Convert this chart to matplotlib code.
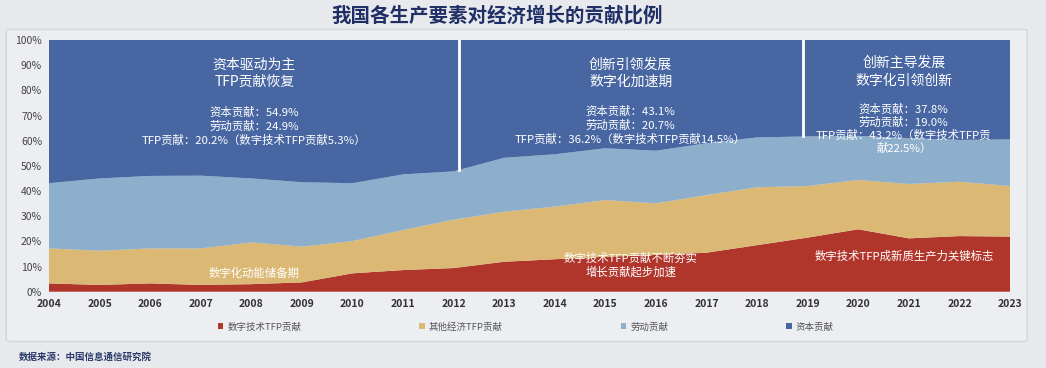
import matplotlib.pyplot as plt
import matplotlib.ticker as mticker
from matplotlib.patches import FancyBboxPatch, Patch

plt.rcParams['font.family'] = ['Noto Sans CJK SC', 'DejaVu Sans']

# datos (% de contribucion)
years = list(range(2004, 2024))
digital_tfp = [3.3, 2.7, 3.3, 2.7, 3.0, 3.7, 7.3, 8.6, 9.4, 11.9,
               12.9, 13.9, 14.6, 15.5, 18.5, 21.5, 24.8, 21.2, 22.1, 21.9]
other_tfp = [13.9, 13.6, 13.9, 14.5, 16.6, 14.2, 12.8, 15.9, 19.2, 19.9,
             20.9, 22.5, 20.5, 22.9, 23.0, 20.5, 19.6, 21.6, 21.6, 20.1]
labor = [25.9, 28.7, 28.8, 28.9, 25.4, 25.6, 23.0, 22.1, 19.2, 21.4,
         20.8, 20.6, 20.9, 20.6, 19.8, 19.7, 17.5, 18.2, 16.6, 18.5]
capital = [56.9, 55.0, 54.0, 53.9, 55.0, 56.5, 56.9, 53.4, 52.2, 46.8,
           45.4, 43.0, 44.0, 41.0, 38.7, 38.3, 38.1, 39.0, 39.7, 39.5]
series_names = ['数字技术TFP贡献', '其他经济TFP贡献', '劳动贡献', '资本贡献']
colors = ['#b0362c', '#dbb975', '#8eafcb', '#4867a2']

# divisiones de etapas
stage_lines = [2012.1, 2018.9]
stage_ends = [48.5, 62.0]

fig = plt.figure(figsize=(10.46, 3.68), dpi=100)
fig.patch.set_facecolor('#e7e9ec')

# tarjeta de fondo
card = FancyBboxPatch((0.006, 0.072), 0.976, 0.848, boxstyle='round,pad=0,rounding_size=0.004',
                      transform=fig.transFigure, facecolor='#eceef1', edgecolor='#d3d6da',
                      linewidth=1.0, zorder=-10)
fig.patches.append(card)

ax = fig.add_axes([0.0468, 0.2073, 0.9188, 0.684])
ax.stackplot(years, digital_tfp, other_tfp, labor, capital, colors=colors,
             labels=series_names, linewidth=0)
ax.set_xlim(2004, 2023)
ax.set_ylim(0, 100)
ax.set_facecolor('none')
for s in ax.spines.values():
    s.set_visible(False)
ax.set_xticks(years)
ax.set_yticks(range(0, 101, 10))
ax.yaxis.set_major_formatter(mticker.FuncFormatter(lambda v, p: f'{int(v)}%'))
ax.tick_params(length=0, labelsize=7.5, colors='#444444')
ax.tick_params(axis='x', pad=5)
ax.tick_params(axis='y', pad=5)
for lab in ax.get_xticklabels():
    lab.set_fontweight('bold')
    lab.set_color('#333333')

# lineas blancas de etapas
for xv, top in zip(stage_lines, stage_ends):
    ax.plot([xv, xv], [top, 100], color='white', lw=2)

# textos de cada etapa
def stage_text(xc, lines_big, lines_small, y_big, y_small, dy_small=5.6):
    for i, t in enumerate(lines_big):
        ax.text(xc, y_big - i * 7, t, color='white', fontsize=10, ha='center', va='center')
    for i, t in enumerate(lines_small):
        ax.text(xc, y_small - i * dy_small, t, color='white', fontsize=8.2, ha='center', va='center')

stage_text(2008.06, ['资本驱动为主', 'TFP贡献恢复'],
           ['资本贡献：54.9%', '劳动贡献：24.9%', 'TFP贡献：20.2%（数字技术TFP贡献5.3%）'],
           90.3, 71.5)
stage_text(2015.5, ['创新引领发展', '数字化加速期'],
           ['资本贡献：43.1%', '劳动贡献：20.7%', 'TFP贡献：36.2%（数字技术TFP贡献14.5%）'],
           90.3, 71.9)
stage_text(2020.9, ['创新主导发展', '数字化引领创新'],
           ['资本贡献：37.8%', '劳动贡献：19.0%', 'TFP贡献：43.2%（数字技术TFP贡', '献22.5%）'],
           90.8, 72.7, dy_small=5.3)

ax.text(2008.06, 7.5, '数字化动能储备期', color='white', fontsize=8.2, ha='center', va='center')
ax.text(2015.5, 13.1, '数字技术TFP贡献不断夯实', color='white', fontsize=8.2, ha='center', va='center')
ax.text(2015.5, 7.8, '增长贡献起步加速', color='white', fontsize=8.2, ha='center', va='center')
ax.text(2020.9, 14.2, '数字技术TFP成新质生产力关键标志', color='white', fontsize=8.2, ha='center', va='center')

# titulo
fig.text(0.475, 0.958, '我国各生产要素对经济增长的贡献比例', ha='center', va='center',
         fontsize=14, fontweight='bold', color='#1f2f66')

# leyenda
handles = [Patch(facecolor=c, edgecolor='none') for c in colors]
fig.legend(handles, series_names, loc='center left', bbox_to_anchor=(0.2, 0.112), ncol=4,
           frameon=False, fontsize=6.8, handlelength=0.6, handleheight=0.6, handletextpad=0.4,
           columnspacing=12.5, labelcolor='#555555')

# fuente
fig.text(0.018, 0.03, '数据来源：中国信息通信研究院', ha='left', va='center',
         fontsize=6.8, fontweight='bold', color='#2b3a6b')

fig.savefig('out.png', dpi=100, facecolor=fig.get_facecolor())
